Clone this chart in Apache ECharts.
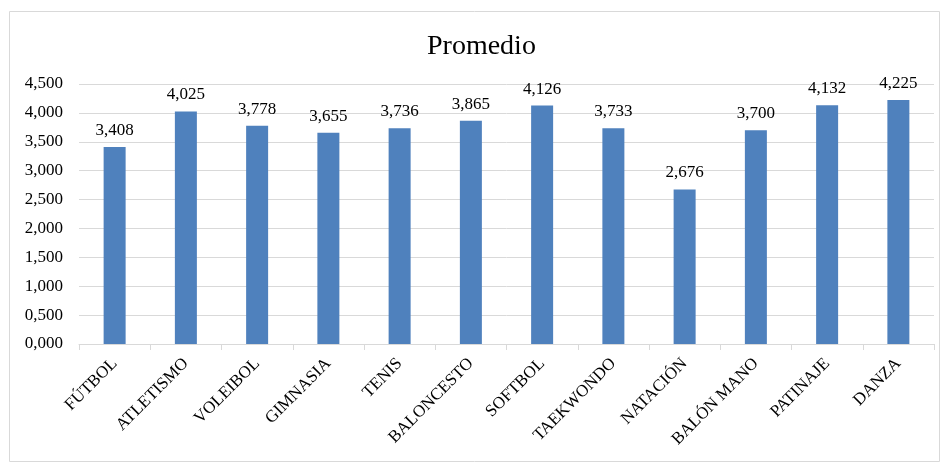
<!DOCTYPE html>
<html><head><meta charset="utf-8">
<script src="https://cdn.jsdelivr.net/npm/echarts@6/dist/echarts.min.js"></script>
<style>html,body{margin:0;padding:0;background:#fff}#c{width:946px;height:464px}</style>
</head><body><div id="c"></div>
<script>
const categories = ["FÚTBOL","ATLETISMO","VOLEIBOL","GIMNASIA","TENIS","BALONCESTO","SOFTBOL","TAEKWONDO","NATACIÓN","BALÓN MANO","PATINAJE","DANZA"];
const values = [3.408,4.025,3.778,3.655,3.736,3.865,4.126,3.733,2.676,3.700,4.132,4.225];
const titleText = "Promedio";
const fmt = v => v.toFixed(3).replace('.', ',');
const font = "'Liberation Serif','Times New Roman',serif";
const chart = echarts.init(document.getElementById('c'), null, {renderer:'canvas'});
chart.setOption({
  animation:false,
  title:{text:titleText,left:422,top:28,textStyle:{fontFamily:font,fontSize:28,fontWeight:'normal',color:'#000'}},
  graphic:[{type:'rect',shape:{x:9.5,y:11.5,width:930,height:450},style:{fill:'none',stroke:'#d9d9d9',lineWidth:1},silent:true}],
  grid:{left:79,right:12,top:84,bottom:120,containLabel:false},
  xAxis:{type:'category',data:categories,
    axisLine:{lineStyle:{color:'#d9d9d9'}},
    axisTick:{show:true,length:6,lineStyle:{color:'#d9d9d9'}},
    axisLabel:{rotate:45,fontFamily:font,fontSize:17,color:'#000',margin:17,interval:0}},
  yAxis:{type:'value',min:0,max:4.5,interval:0.5,
    axisLine:{show:false},axisTick:{show:false},
    splitLine:{lineStyle:{color:'#d9d9d9'}},
    axisLabel:{formatter:fmt,fontFamily:font,fontSize:17,color:'#000',margin:16}},
  series:[{type:'bar',data:values,barWidth:22,itemStyle:{color:'#4F81BD'},
    label:{show:true,position:'top',distance:8,formatter:p=>fmt(p.value),fontFamily:font,fontSize:17,color:'#000'}}]
});
</script></body></html>
